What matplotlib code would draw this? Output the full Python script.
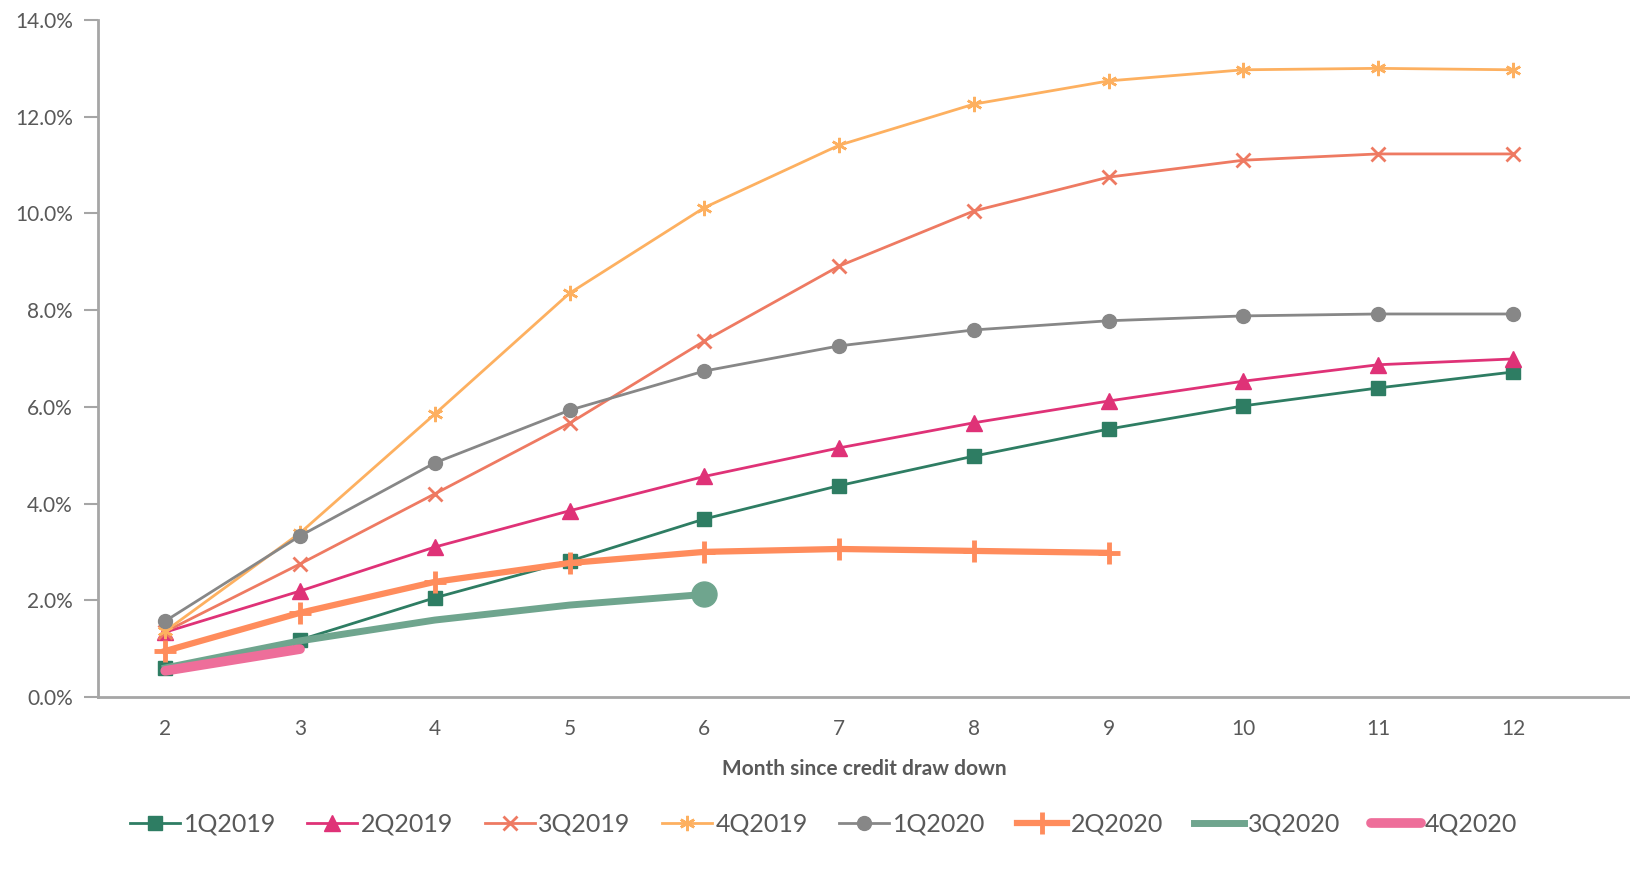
import matplotlib
matplotlib.use("Agg")
import matplotlib.pyplot as plt
from matplotlib.ticker import FuncFormatter

# months since draw down
months = [2, 3, 4, 5, 6, 7, 8, 9, 10, 11, 12]

# cumulative default rate (%) per vintage
q1_2019 = [0.60, 1.18, 2.05, 2.81, 3.68, 4.37, 4.98, 5.54, 6.02, 6.39, 6.72]
q2_2019 = [1.34, 2.19, 3.10, 3.85, 4.56, 5.15, 5.67, 6.12, 6.53, 6.87, 6.99]
q3_2019 = [1.35, 2.75, 4.20, 5.66, 7.36, 8.91, 10.05, 10.75, 11.10, 11.23, 11.23]
q4_2019 = [1.36, 3.39, 5.85, 8.35, 10.12, 11.41, 12.26, 12.74, 12.97, 13.00, 12.97]
q1_2020 = [1.57, 3.33, 4.84, 5.93, 6.74, 7.26, 7.59, 7.78, 7.88, 7.92, 7.92]
q2_2020 = [0.95, 1.74, 2.38, 2.77, 3.00, 3.06, 3.02, 2.98]
q3_2020 = [0.60, 1.16, 1.59, 1.90, 2.12]
q4_2020 = [0.54, 0.99]

labels = ["1Q2019", "2Q2019", "3Q2019", "4Q2019", "1Q2020", "2Q2020", "3Q2020", "4Q2020"]

plt.rcParams['font.family'] = ['Lato', 'DejaVu Sans']
txt = "#595959"

fig = plt.figure(figsize=(16.31, 8.69), dpi=100)
ax = fig.add_axes([0.060, 0.198, 0.9395, 0.779])

ax.plot(months, q1_2019, color="#2E7D63", lw=2, marker="s", ms=10, label=labels[0])
ax.plot(months, q2_2019, color="#DF3277", lw=2, marker="^", ms=11, label=labels[1])
ax.plot(months, q3_2019, color="#EE7A62", lw=2, marker="x", ms=10, mew=2, label=labels[2])
ax.plot(months, q4_2019, color="#FDB060", lw=2, marker=(6, 2, 0), ms=11, mew=1.8, label=labels[3])
ax.plot(months, q1_2020, color="#878787", lw=2, marker="o", ms=10, label=labels[4])
ax.plot(months[:len(q2_2020)], q2_2020, color="#FF8C5C", lw=4.5, marker="+", ms=16, mew=3.5,
        label=labels[5])
ax.plot(months[:len(q3_2020)], q3_2020, color="#6FA58E", lw=5, label=labels[6])
# end point of the 3Q2020 vintage is highlighted
ax.plot(months[len(q3_2020) - 1], q3_2020[-1], color="#6FA58E", lw=0, marker="o", ms=18)
ax.plot(months[:len(q4_2020)], q4_2020, color="#EE6E9A", lw=7, solid_capstyle="round",
        label=labels[7])

ax.set_xlim(1.5, 12.87)
ax.set_ylim(0, 14)
ax.set_xticks(months)
ax.set_yticks([0, 2, 4, 6, 8, 10, 12, 14])
ax.yaxis.set_major_formatter(FuncFormatter(lambda v, p: f"{v:.1f}%"))
ax.tick_params(axis="x", length=0, pad=16, labelsize=15, labelcolor=txt)
ax.tick_params(axis="y", length=10, width=1.5, color="#A6A6A6", pad=8, labelsize=15, labelcolor=txt)

for s in ["top", "right"]:
    ax.spines[s].set_visible(False)
for s in ["left", "bottom"]:
    ax.spines[s].set_color("#A6A6A6")
    ax.spines[s].set_linewidth(2)

ax.set_xlabel("Month since credit draw down", fontsize=15, fontweight="bold", color=txt, labelpad=14)

handles, labs = ax.get_legend_handles_labels()
leg = fig.legend(handles, labs, loc="center", bbox_to_anchor=(0.505, 0.052), ncol=8, frameon=False,
                 fontsize=18, handlelength=2.0, handletextpad=0.15, columnspacing=1.25)
for t in leg.get_texts():
    t.set_color(txt)

fig.savefig("out.png", dpi=100)
